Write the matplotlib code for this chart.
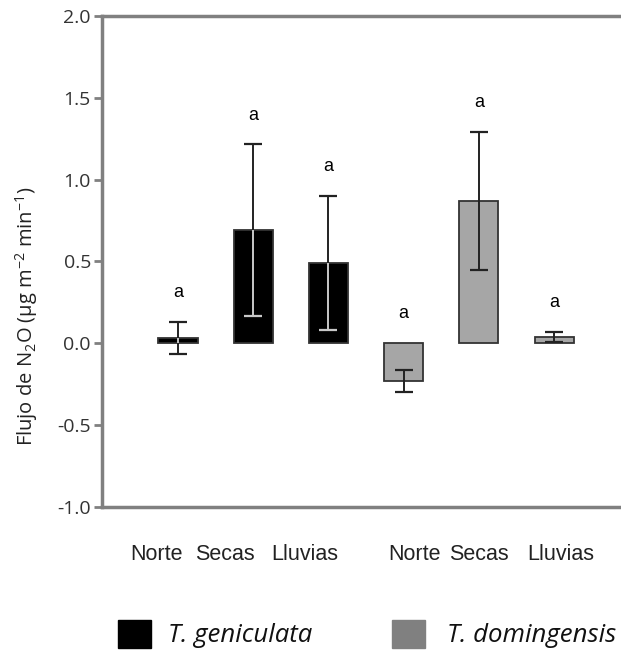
import matplotlib.pyplot as plt
import matplotlib.patches as mpatches
import numpy as np

plt.rcParams['font.family'] = ['Open Sans', 'DejaVu Sans']
plt.rcParams['mathtext.default'] = 'regular'

seasons = ["Norte", "Secas", "Lluvias"]
species = ["T. geniculata", "T. domingensis"]
geniculata_mean = [0.033, 0.69, 0.49]
geniculata_err = [0.097, 0.525, 0.41]
domingensis_mean = [-0.23, 0.87, 0.04]
domingensis_err = [0.065, 0.42, 0.03]
letters = ["a", "a", "a", "a", "a", "a"]

means = geniculata_mean + domingensis_mean
errs = geniculata_err + domingensis_err
colors = ["black"] * 3 + ["#a6a6a6"] * 3
x = np.arange(len(means))

fig = plt.figure(figsize=(6.21, 6.56), dpi=100)
ax = fig.add_axes([102 / 621, 1 - 507 / 656, 1 - 102 / 621, 491 / 656])

bars = ax.bar(x, means, width=0.52, color=colors, edgecolor="#333333",
              linewidth=1.3, zorder=2)
ax.errorbar(x, means, yerr=errs, fmt="none", ecolor="#222222",
            elinewidth=1.4, capsize=6.5, capthick=1.6, zorder=3)

# error bar drawn light grey where it runs inside the black bars
for i in range(3):
    _, caps, lines = ax.errorbar(x[i], means[i], yerr=errs[i], fmt="none",
                                 ecolor="#c8c8c8", elinewidth=1.4,
                                 capsize=6.5, capthick=1.6, zorder=4)
    for art in list(caps) + list(lines):
        art.set_clip_path(bars[i])

for xi, m, e, lab in zip(x, means, errs, letters):
    ax.text(xi, max(m + e, 0) + 0.18, lab, ha="center", va="center",
            fontsize=13, family="Liberation Sans")

ax.set_xlim(-1.01, 5.89)
ax.set_ylim(-1.0, 2.0)
ax.set_yticks([-1.0, -0.5, 0.0, 0.5, 1.0, 1.5, 2.0])
ax.set_yticklabels([f"{v:.1f}" for v in ax.get_yticks()])
ax.set_xticks([])
ax.tick_params(axis="y", length=6, width=2, color="#808080", pad=2,
               labelsize=14, labelcolor="#333333")
for side in ["left", "top", "bottom"]:
    ax.spines[side].set_color("#808080")
    ax.spines[side].set_linewidth(2.5)
ax.spines["right"].set_visible(False)

fig.text(27 / 621, 1 - 316 / 656,
         "Flujo de N$_2$O (µg m$^{-2}$ min$^{-1}$)",
         rotation=90, ha="center", va="center", fontsize=14.5,
         color="#222222")

# season labels under each group (shifted as in the original)
label_x = [-0.29, 0.63, 1.68, 3.15, 4.0, 5.09]
for lx, lab in zip(label_x, seasons * 2):
    ax.text(lx, -1.0 - 48 / 163.7, lab, ha="center", va="center",
            fontsize=15.5, family="Liberation Sans", color="#222222",
            clip_on=False)

# legend made of squares and italic names
leg_colors = ["black", "#808080"]
sq_x = [118, 392]
txt_x = [168, 447]
for c, sx, tx, name in zip(leg_colors, sq_x, txt_x, species):
    fig.patches.append(mpatches.Rectangle(
        (sx / 621, 1 - 648 / 656), 33 / 621, 28 / 656, color=c,
        transform=fig.transFigure, figure=fig))
    fig.text(tx / 621, 1 - 635 / 656, name, ha="left", va="center",
             fontsize=18.5, style="italic", color="#111111")

fig.savefig("out.png", dpi=100)
